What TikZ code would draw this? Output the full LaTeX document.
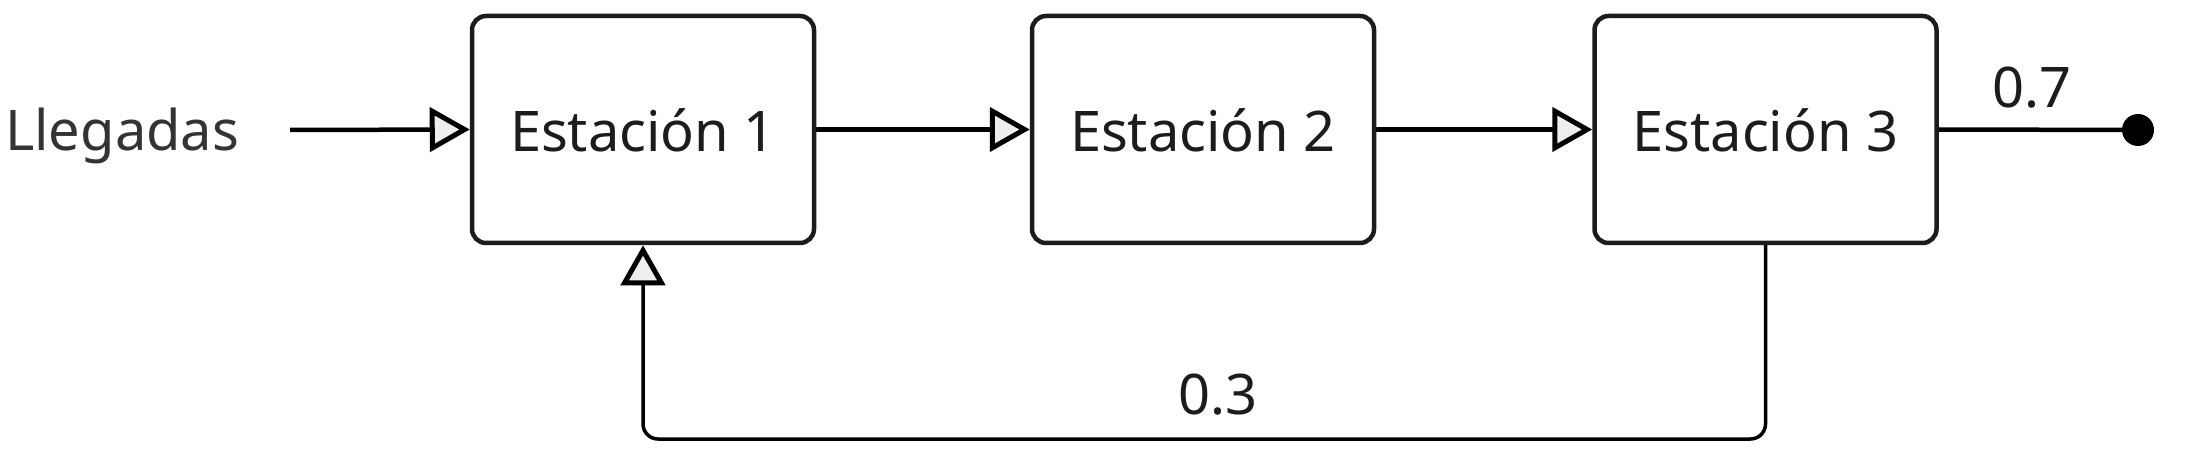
\documentclass[tikz,border=0pt]{standalone}
\usepackage{fontspec}
\setmainfont{Noto Sans}
\usetikzlibrary{arrows.meta}
\definecolor{txt}{HTML}{1C1C1C}
\definecolor{lbl}{HTML}{333333}
\definecolor{tipfill}{HTML}{EEEEEE}
\tikzset{
  x=1pt, y=-1pt,
  stationbox/.style={draw=txt, line width=4.5pt, rounded corners=14pt, fill=white,
    minimum width=342pt, minimum height=227pt, inner sep=0pt,
    text height=45pt, text depth=0pt, text=txt,
    font=\fontsize{56}{67}\selectfont},
  opentip/.style={-{Triangle[length=40pt 0 0, width=44pt 0 0, fill=tipfill, line width=5pt]}},
  flow/.style={draw=black, line width=4.5pt, opentip},
  feedback/.style={draw=black, line width=3.5pt, rounded corners=15pt, opentip},
  plainlbl/.style={font=\fontsize{56}{67}\selectfont, inner sep=0pt},
}
\begin{document}
\begin{tikzpicture}
\useasboundingbox (0,0) rectangle (2185,457);
\node[stationbox] (s1) at (643,129.5) {Estación 1};
\node[stationbox] (s2) at (1203,129.5) {Estación 2};
\node[stationbox] (s3) at (1765.5,129.5) {Estación 3};
\node[plainlbl, text=lbl, anchor=base west] (lleg) at (5,151) {Llegadas};
\coordinate (in) at (290,130);
\node[circle, fill=black, minimum size=32pt, inner sep=0pt] (dot) at (2138,130) {};
\node[plainlbl, text=txt, anchor=base] (p7) at (2032,108) {0.7};
\node[plainlbl, text=txt, anchor=base] (p3) at (1218,414) {0.3};
\draw[flow] (in) -- (s1.west);
\draw[flow] (s1.east) -- (s2.west);
\draw[flow] (s2.east) -- (s3.west);
\draw[black, line width=4.5pt] (s3.east) -- (dot.center);
\draw[feedback] (s3.south) -- (s3.south |- 0,439) -- (s1.south |- 0,439) -- (s1.south);
\end{tikzpicture}
\end{document}
